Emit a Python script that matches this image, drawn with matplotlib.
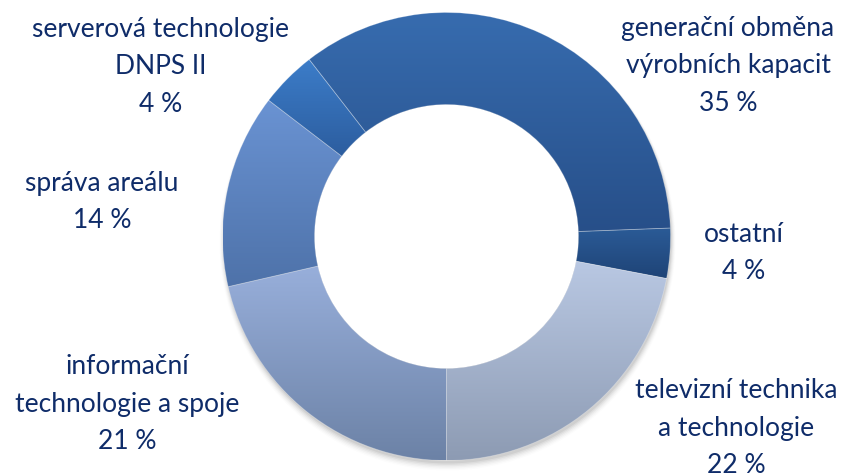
import numpy as np
import matplotlib
matplotlib.use("Agg")
import matplotlib.pyplot as plt
from matplotlib.colors import LinearSegmentedColormap
from matplotlib.patches import Circle

# ---- data ----
categories = [
    "generační obměna\nvýrobních kapacit",
    "ostatní",
    "televizní technika\na technologie",
    "informační\ntechnologie a spoje",
    "správa areálu",
    "serverová technologie\nDNPS II",
]
shares = [34.9, 3.6, 22.0, 21.4, 14.0, 4.1]
top_colors = ["#376CAF", "#2B5B97", "#B9C8E3", "#98AFDB", "#6A93D3", "#3C7DC9"]
bottom_colors = ["#274F89", "#1F4477", "#8D9BB3", "#6C82A6", "#4E72A9", "#2C5D9F"]
label_pos = [(728, 66), (744, 253), (736, 428), (127, 404), (102, 202), (161, 67)]

W, H = 843, 473
fig = plt.figure(figsize=(W / 100, H / 100), dpi=100)
ax = fig.add_axes([0, 0, 1, 1])
ax.set_xlim(0, W)
ax.set_ylim(0, H)
ax.set_aspect("equal")
ax.axis("off")

cx, cy = 446.5, H - 236.5
R = 224
ring = 92 / 224

# soft shadow
for i, a in enumerate(np.linspace(0.05, 0.01, 6)):
    ax.add_patch(Circle((cx + 1, cy - 3 - i * 0.6), R + i * 0.8, color="#000000",
                        alpha=a, lw=0, zorder=0))
ax.add_patch(Circle((cx, cy), R - ring * R, color="white", lw=0, zorder=0.5))

wedges, _ = ax.pie(shares, startangle=127.8, counterclock=False, radius=R,
                   center=(cx, cy), frame=True,
                   wedgeprops=dict(width=ring * R, linewidth=0))
ax.set_xlim(0, W)
ax.set_ylim(0, H)
ax.axis("off")

for w, ct, cb in zip(wedges, top_colors, bottom_colors):
    w.set_facecolor("none")
    bb = w.get_path().get_extents()
    cmap = LinearSegmentedColormap.from_list("g", [cb, ct])
    grad = np.linspace(0, 1, 256).reshape(-1, 1)
    im = ax.imshow(grad, cmap=cmap, origin="lower", aspect="auto",
                   extent=(bb.x0, bb.x1, bb.y0, bb.y1), zorder=1,
                   interpolation="bilinear")
    im.set_clip_path(w)
    w.set_edgecolor((1, 1, 1, 0.25))
    w.set_linewidth(0.6)
    w.set_zorder(2)

text_color = "#0F2C69"
for cat, v, (x, y) in zip(categories, shares, label_pos):
    ax.text(x, H - y, f"{cat}\n{round(v)} %", ha="center", va="center",
            multialignment="center", color=text_color, fontsize=19,
            family=["Lato", "DejaVu Sans"], linespacing=1.62)

ax.set_xlim(0, W)
ax.set_ylim(0, H)
fig.savefig("out.png", dpi=100)
